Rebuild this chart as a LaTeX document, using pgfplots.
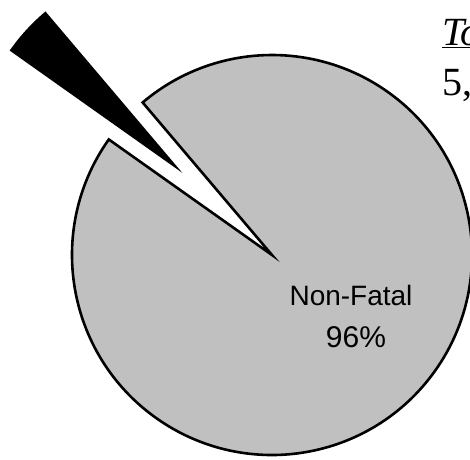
\documentclass[border=0pt]{standalone}
\usepackage{fontspec}
\setmainfont{Liberation Serif}
\newfontfamily\labelfont{Liberation Sans}
\usepackage{pgfplots}
\pgfplotsset{compat=1.18}
\usepackage{pgfplotstable}

% share of injuries by outcome (percent)
\pgfplotstableread{
label     value
Fatal     4
Non-Fatal 96
}\piedata

\definecolor{piegray}{RGB}{192,192,192}

\begin{document}
\begin{tikzpicture}
\pgfplotstablegetelem{0}{value}\of\piedata
\pgfmathsetmacro\fatalspan{3.6*\pgfplotsretval}
\pgfmathsetmacro\midangle{137.5}
\pgfmathsetmacro\fatalstart{\midangle-\fatalspan/2}
\pgfmathsetmacro\fatalend{\midangle+\fatalspan/2}
\pgfmathsetmacro\grayend{\fatalstart+360}
% pie centre, radius and the offset of the exploded slice
\pgfmathsetmacro\cx{272}
\pgfmathsetmacro\cy{204}
\pgfmathsetmacro\rad{200}
\pgfmathsetmacro\bx{\cx+132*cos(\midangle)}
\pgfmathsetmacro\by{\cy+132*sin(\midangle)}
\begin{axis}[
  x=1pt, y=1pt, scale only axis,
  xmin=0, xmax=470, ymin=0, ymax=459,
  hide axis, clip=false,
]
% non-fatal slice
\filldraw[fill=piegray, draw=black, line width=2.6pt, line join=miter]
  (axis cs:\cx,\cy) -- ++(\fatalend:\rad pt)
  arc[start angle=\fatalend, end angle=\grayend, radius=\rad pt] -- cycle;
% fatal slice, pulled out
\filldraw[fill=black, draw=black, line width=2.6pt, line join=miter]
  (axis cs:\bx,\by) -- ++(\fatalstart:\rad pt)
  arc[start angle=\fatalstart, end angle=\fatalend, radius=\rad pt] -- cycle;
% slice label
\node[anchor=base, font=\labelfont\fontsize{28}{32}\selectfont] at (axis cs:351,154) {Non-Fatal};
\node[anchor=base, font=\labelfont\fontsize{30}{34}\selectfont] at (axis cs:356,112) {96\%};
% total box text
\node[anchor=base west, inner sep=0pt, font=\fontsize{40}{46}\selectfont\itshape] at (axis cs:442,414) {\underline{Total}};
\node[anchor=base west, inner sep=0pt, font=\fontsize{40}{46}\selectfont] at (axis cs:442,364) {5,346};
\end{axis}
% the page is the axis box; anything beyond it falls off the page
\pgfresetboundingbox
\path[use as bounding box] (current axis.south west) rectangle (current axis.north east);
\end{tikzpicture}
\end{document}
